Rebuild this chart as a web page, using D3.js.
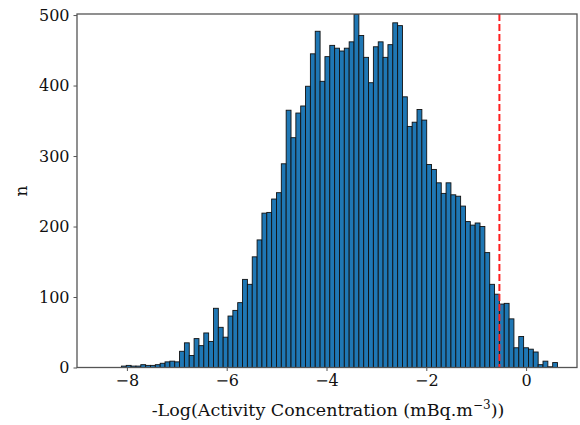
<!DOCTYPE html>
<html>
<head>
<meta charset="utf-8">
<script src="https://cdn.jsdelivr.net/npm/d3@7"></script>
<style>
  html, body { margin: 0; padding: 0; background: #fff; }
  svg { display: block; }
</style>
</head>
<body>
<svg id="chart" width="580" height="425"></svg>
<script>
// ---- data ----
const binMin = -8.11;          // left edge of first bin
const binMax = 0.63;           // right edge of last bin
const counts = [
  2, 3, 2, 2, 4, 3, 3, 4, 6, 8,
  9, 8, 23, 35, 17, 41, 31, 49, 37, 84,
  57, 43, 73, 81, 92, 125, 118, 157, 181, 219,
  220, 239, 248, 289, 365, 326, 361, 371, 399, 445,
  477, 406, 441, 457, 453, 449, 453, 462, 501, 471,
  440, 404, 455, 462, 440, 458, 489, 485, 384, 342,
  348, 366, 351, 288, 281, 262, 247, 262, 245, 243,
  229, 207, 202, 205, 200, 163, 118, 104, 90, 91,
  69, 28, 44, 28, 26, 22, 4, 9, 1, 7
];
const thresholdX = -0.535;
const xTicks = [-8, -6, -4, -2, 0];
const yTicks = [0, 100, 200, 300, 400, 500];
const xDomain = [-9.0, 1.02];
const yDomain = [0, 501.5];
const xLabel = "-Log(Activity Concentration (mBq.m";
const xLabelSup = "\u22123";
const yLabel = "n";

// ---- layout ----
const svg = d3.select("#chart");
const mLeft = 77, mRight = 577, mTop = 14, mBottom = 367.5;
const x = d3.scaleLinear().domain(xDomain).range([mLeft, mRight]);
const y = d3.scaleLinear().domain(yDomain).range([mBottom, mTop]);
const font = "'DejaVu Serif', 'Liberation Serif', serif";
const frameColor = "#555";

const nb = counts.length;
const bw = (binMax - binMin) / nb;
const bins = counts.map((c, i) => ({x0: binMin + i * bw, x1: binMin + (i + 1) * bw, n: c}));

// clip
svg.append("defs").append("clipPath").attr("id", "clip")
  .append("rect").attr("x", mLeft).attr("y", mTop).attr("width", mRight - mLeft).attr("height", mBottom - mTop);

const plot = svg.append("g").attr("clip-path", "url(#clip)");
plot.selectAll("rect.bar").data(bins).enter().append("rect")
  .attr("class", "bar")
  .attr("x", d => x(d.x0))
  .attr("width", d => x(d.x1) - x(d.x0))
  .attr("y", d => y(d.n))
  .attr("height", d => y(0) - y(d.n))
  .attr("fill", "#1f77b4")
  .attr("stroke", "#111")
  .attr("stroke-width", 0.9);

plot.append("line")
  .attr("x1", x(thresholdX)).attr("x2", x(thresholdX))
  .attr("y1", mTop).attr("y2", mBottom)
  .attr("stroke", "#ff2020").attr("stroke-width", 2)
  .attr("stroke-dasharray", "7,3");

// axes
const xAxis = d3.axisBottom(x).tickValues(xTicks).tickSize(3.5).tickPadding(4)
  .tickFormat(d => (d < 0 ? "\u2212" : "") + Math.abs(d));
const yAxis = d3.axisLeft(y).tickValues(yTicks).tickSize(3.5).tickPadding(4)
  .tickFormat(d3.format("d"));

const gx = svg.append("g").attr("transform", `translate(0,${mBottom})`).call(xAxis);
const gy = svg.append("g").attr("transform", `translate(${mLeft},0)`).call(yAxis);
[gx, gy].forEach(g => {
  g.select(".domain").remove();
  g.selectAll(".tick line").attr("stroke", frameColor).attr("stroke-width", 1);
  g.selectAll(".tick text").attr("fill", "#111").style("font-family", font).style("font-size", "16px");
});

// frame
svg.append("rect").attr("x", mLeft).attr("y", mTop).attr("width", mRight - mLeft).attr("height", mBottom - mTop)
  .attr("fill", "none").attr("stroke", frameColor).attr("stroke-width", 1.3);

// x label
const xl = svg.append("text")
  .attr("x", (mLeft + mRight) / 2 + 1).attr("y", 416)
  .attr("text-anchor", "middle")
  .attr("fill", "#111")
  .style("font-family", font).style("font-size", "17.5px");
xl.append("tspan").text(xLabel);
xl.append("tspan").attr("dy", -7).style("font-size", "12px").text(xLabelSup);
xl.append("tspan").attr("dy", 7).text("))");

// y label
svg.append("text")
  .attr("transform", "translate(27,191) rotate(-90)")
  .attr("text-anchor", "middle")
  .attr("fill", "#111")
  .style("font-family", font).style("font-size", "17px")
  .text(yLabel);
</script>
</body>
</html>
